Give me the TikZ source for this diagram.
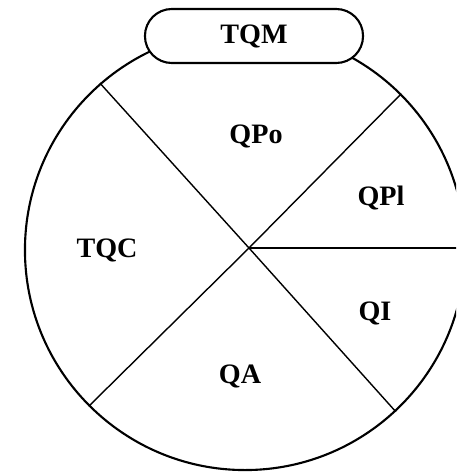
\documentclass[tikz,border=0pt]{standalone}
\usepackage{fontspec}
\setmainfont{Liberation Serif}
\usetikzlibrary{calc}

\begin{document}
\begin{tikzpicture}[x=0.025cm, y=-0.025cm,
    lbl/.style={font=\fontsize{20}{20}\selectfont\bfseries, inner sep=0pt}]
            \useasboundingbox (0,0) rectangle (456,474);
            \clip (0,0) rectangle (456,474);
            \coordinate (O) at (245,250);
            \coordinate (H) at (249,248);
            \node[circle, draw, line width=1.5pt, minimum size=11cm, inner sep=0pt] (C) at (O) {};
            % spokes from the hub
            \draw[line width=1pt] (H) -- (C.131.2);
            \draw[line width=1pt] (H) -- (C.45.4);
            \draw[line width=1pt] (H) -- (C.225.7);
            \draw[line width=1pt] (H) -- (C.313);
            \draw[line width=1.2pt] (H) -- (H -| C.east);
            %\coordinate (T) at ($(C.north)$);
            \node[draw, fill=white, line width=1.5pt, rounded corners=0.67cm,
                  minimum width=5.45cm, minimum height=1.35cm, lbl] (TQM) at (254,36) {TQM};
            \node[lbl] (QPo) at (256,136) {QPo};
            \node[lbl] (QPl) at (381,198) {QPl};
            \node[lbl] (TQC) at (107,250) {TQC};
            \node[lbl] (QI) at (375,313) {QI};
            \node[lbl] (QA) at (240,376) {QA};
        \end{tikzpicture}
\end{document}
